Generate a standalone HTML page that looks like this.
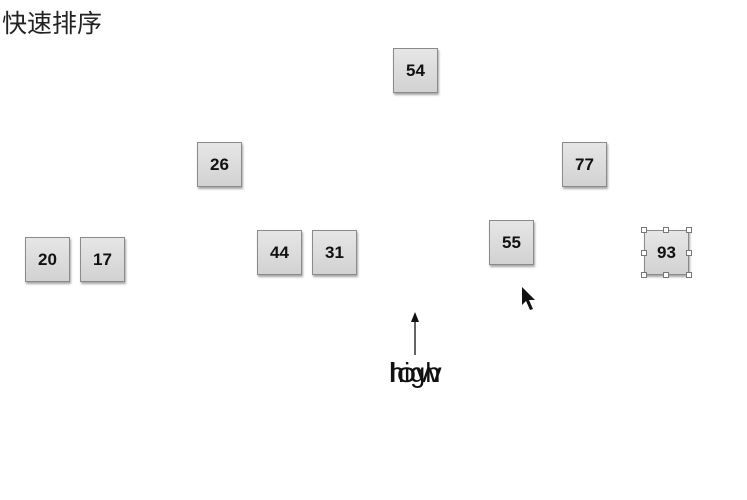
<!DOCTYPE html>
<html><head><meta charset="utf-8"><style>
body{margin:0;width:747px;height:500px;background:#fff;position:relative;overflow:hidden;font-family:"Liberation Sans",sans-serif}
.box{position:absolute;width:45px;height:45px;box-sizing:border-box;border:1px solid #8a8a8a;background:linear-gradient(#e6e6e6,#d2d2d2);box-shadow:1px 2px 2px rgba(0,0,0,0.35);display:flex;align-items:center;justify-content:center;font-weight:bold;font-size:17px;color:#111}
.h{position:absolute;width:6px;height:6px;background:#fff;border:1px solid #777;box-sizing:border-box}
.lbl{position:absolute;left:389px;top:359px;font-size:28px;transform-origin:left top;color:#111;line-height:1}
</style></head><body>
<div style="position:absolute;left:2px;top:4px;font-size:25px;font-family:'Liberation Sans','Noto Sans CJK SC',sans-serif;color:#222">快速排序</div>
<div class="box" style="left:393px;top:48px">54</div>
<div class="box" style="left:197px;top:142px">26</div>
<div class="box" style="left:562px;top:142px">77</div>
<div class="box" style="left:25px;top:237px">20</div>
<div class="box" style="left:80px;top:237px">17</div>
<div class="box" style="left:257px;top:230px">44</div>
<div class="box" style="left:312px;top:230px">31</div>
<div class="box" style="left:489px;top:220px">55</div>
<div class="box" style="left:644px;top:230px">93</div>
<div>
<div class="h" style="left:641px;top:227px"></div><div class="h" style="left:663px;top:227px"></div><div class="h" style="left:686px;top:227px"></div>
<div class="h" style="left:641px;top:250px"></div><div class="h" style="left:686px;top:250px"></div>
<div class="h" style="left:641px;top:272px"></div><div class="h" style="left:663px;top:272px"></div><div class="h" style="left:686px;top:272px"></div>
</div>
<svg style="position:absolute;left:0;top:0" width="747" height="500">
<line x1="415" y1="355" x2="415" y2="320" stroke="#111" stroke-width="1.3"/>
<polygon points="411,322 415,312 419,322" fill="#111"/>
<polygon points="522,287 522,305 526,301 530,310 533,309 529,300 535,300" fill="#111"/>
</svg>
<div class="lbl" style="transform:scaleX(1.25)">low</div>
<div class="lbl" style="transform:scaleX(0.97)">high</div>
</body></html>
